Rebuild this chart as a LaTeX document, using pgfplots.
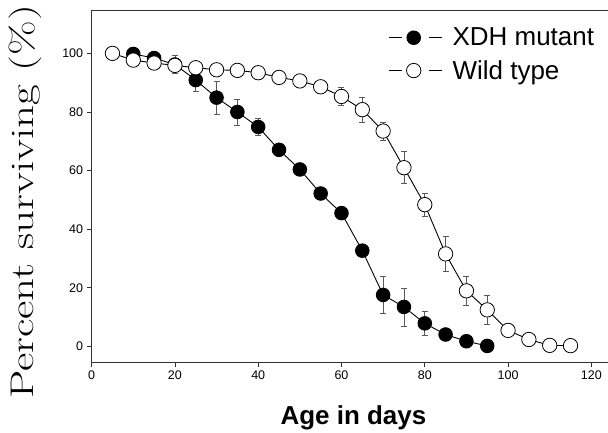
\documentclass[border=0pt]{standalone}
\usepackage{pgfplots}
\usepackage{pgfplotstable}
\pgfplotsset{compat=1.18}
\usepackage{fontspec}
\newfontfamily\arial{Liberation Sans}

\pgfplotstableread{
x y e
10 99.8 0.5
15 98.4 1.0
20 96.2 3.0
25 90.9 3.8
30 84.9 5.7
35 80.0 4.4
40 74.9 3.0
45 67.1 2.0
50 60.4 1.5
55 52.2 1.0
60 45.5 1.0
65 32.7 2.0
70 17.6 6.4
75 13.5 6.5
80 7.9 4.2
85 4.1 1.5
90 1.8 0.5
95 0.2 0
}\xdh

\pgfplotstableread{
x y e
5 100.0 0
10 97.7 0.5
15 96.7 0.5
20 95.9 1.0
25 95.1 0.5
30 94.4 0.5
35 94.2 0.5
40 93.4 0.5
45 91.8 0.8
50 90.6 0.8
55 88.6 1.0
60 85.3 3.0
65 80.8 4.2
70 73.5 3.0
75 61.0 5.5
80 48.4 4.0
85 31.6 6.0
90 19.0 5.0
95 12.5 5.0
100 5.5 0.5
105 2.4 0.5
110 0.4 0
115 0.3 0
}\wild

\begin{document}
\begin{tikzpicture}
\begin{axis}[
  scale only axis,
  width=516.7pt, height=352.3pt,
  xmin=0, xmax=124, ymin=-5.3, ymax=114.8,
  axis x line=box, axis y line=left,
  axis line style={-, line width=0.8pt, black!80},
  xtick={0,20,...,120}, ytick={0,20,...,100},
  xtick pos=left, ytick pos=left,
  tick align=outside, major tick length=5pt,
  tick style={line width=0.8pt, black!80},
  minor tick num=0,
  /pgf/number format/assume math mode=true,
  ticklabel style={font=\arial\fontsize{12.5}{14}\selectfont},
  xlabel={\arial\bfseries\fontsize{26}{30}\selectfont Age in days},
  xlabel style={at={(axis description cs:0.507,-0.158)}, anchor=center, inner sep=0pt},
  ylabel={\scalebox{1}[0.73]{\fontsize{45}{54}\selectfont Percent surviving (\%)}},
  ylabel style={at={(axis description cs:-0.128,0.455)}, anchor=center, rotate=0, inner sep=0pt},
  legend style={draw=none, fill=none, at={(axis description cs:0.574,0.955)}, anchor=north west,
    inner sep=0pt, font=\arial\fontsize{26}{30}\selectfont, row sep=9pt,
    /tikz/every odd column/.append style={column sep=8pt}},
  legend cell align=left,
  legend image code/.code={
    \draw[mark=none, line width=1pt] (0pt,0pt)--(13.4pt,0pt);
    \draw[mark=none, line width=1pt] (40pt,0pt)--(53.4pt,0pt);
    \draw plot coordinates {(25pt,0pt)};
  },
  error bars/error bar style={line width=0.7pt, black!65},
  error bars/error mark options={rotate=90, mark size=3pt, line width=0.7pt, black!65},
]
\addplot[black, line width=0.9pt, mark=*, mark size=6.8pt, mark options={fill=black, draw=black},
  error bars/.cd, y dir=both, y explicit] table[x=x, y=y, y error=e] {\xdh};
\addlegendentry{XDH mutant}
\addplot[black, line width=0.9pt, mark=*, mark size=7.2pt, mark options={fill=white, draw=black, line width=0.8pt},
  error bars/.cd, y dir=both, y explicit] table[x=x, y=y, y error=e] {\wild};
\addlegendentry{Wild type}
\end{axis}
\pgfresetboundingbox
\path ([xshift=-91.7pt,yshift=-70.7pt]current axis.south west) rectangle ([yshift=10pt]current axis.north east);
\end{tikzpicture}
\end{document}
